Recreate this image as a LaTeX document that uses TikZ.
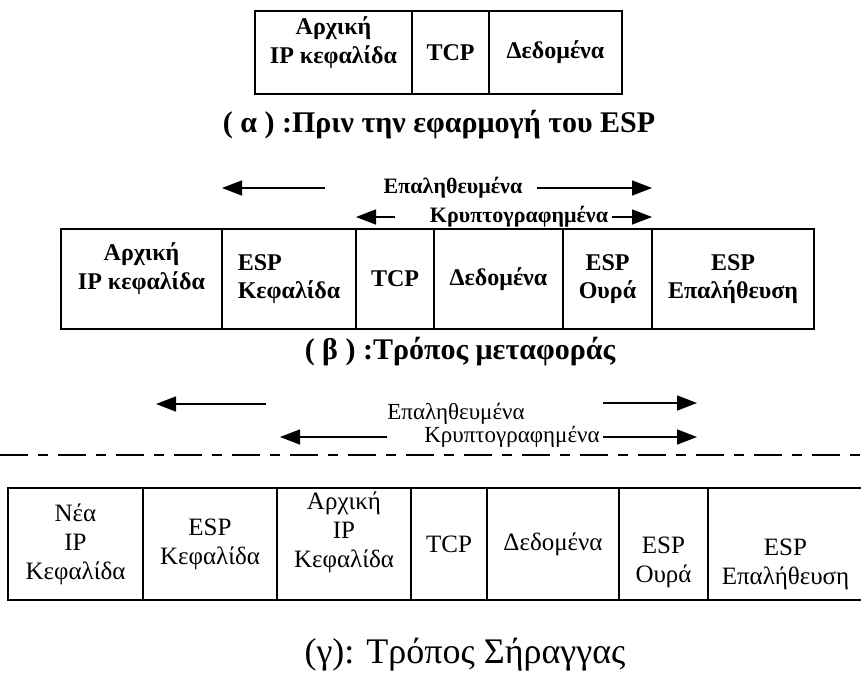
\documentclass[tikz,border=0pt]{standalone}
\usepackage{fontspec}
\setmainfont{Liberation Serif}
\usetikzlibrary{positioning}
\usetikzlibrary{arrows.meta}

\newcommand\cellbf{\fontsize{24}{28.5}\selectfont\bfseries}
\newcommand\cellrm{\fontsize{25}{29}\selectfont}
\newcommand\spanbf{\fontsize{22}{26}\selectfont\bfseries}
\newcommand\spanrm{\fontsize{23}{27}\selectfont}

\begin{document}
\begin{tikzpicture}[x=1pt, y=-1pt,
    box/.style={draw, line width=1.5pt, inner sep=0pt, outer sep=0pt, align=center},
    rowa/.style={box, minimum height=83pt, font=\cellbf},
    rowb/.style={box, minimum height=100pt, font=\cellbf},
    rowc/.style={box, minimum height=112pt, font=\cellrm},
    drop/.style={text depth=0pt, text height=#1},
    spanarrow/.style={line width=1.5pt, -{Triangle[length=20pt, width=15pt]}},
    capt/.style={inner sep=0pt}
  ]
  \path[use as bounding box, fill=white] (0,0) rectangle (861,675);

  % (a) plain packet
  \node[rowa, minimum width=157pt, drop=21pt] (a-ip) at (333.5,52.5) {Αρχική\\IP κεφαλίδα};
  \node[rowa, minimum width=77pt, right=0pt of a-ip] (a-tcp) {TCP};
  \node[rowa, minimum width=133pt, right=0pt of a-tcp] (a-data) {Δεδομένα};
  \node[capt, font=\fontsize{30}{34}\selectfont\bfseries] (a-cap) at (439,125)
    {( α ) :Πριν την εφαρμογή του ESP};

  % (b) transport mode
  \node[font=\spanbf] (b-auth-lbl) at (453,188) {Επαληθευμένα};
  \node[font=\spanbf] (b-enc-lbl) at (519,217) {Κρυπτογραφημένα};

  \node[rowb, minimum width=161pt, drop=20pt] (b-ip) at (141.5,279) {Αρχική\\IP κεφαλίδα};
  \node[rowb, minimum width=134pt, align=left, right=0pt of b-ip] (b-esp) {ESP\\Κεφαλίδα};
  \node[rowb, minimum width=78pt, right=0pt of b-esp] (b-tcp) {TCP};
  \node[rowb, minimum width=129pt, right=0pt of b-tcp] (b-data) {Δεδομένα};
  \node[rowb, minimum width=89pt, right=0pt of b-data] (b-trail) {ESP\\Ουρά};
  \node[rowb, minimum width=162pt, right=0pt of b-trail] (b-auth) {ESP\\Επαλήθευση};
  \node[capt, font=\fontsize{30}{34}\selectfont\bfseries] (b-cap) at (460,352)
    {( β ) :Τρόπος μεταφοράς};

  \coordinate (b-auth-l) at (325,188);
  \coordinate (b-auth-r) at (537,188);
  \coordinate (b-enc-l) at (395,217);
  \draw[spanarrow] (b-auth-l) -- (b-esp.west |- b-auth-l);
  \draw[spanarrow] (b-auth-r) -- (b-trail.east |- b-auth-r);
  \draw[spanarrow] (b-enc-l) -- (b-tcp.west |- b-enc-l);
  \draw[spanarrow] (b-enc-lbl.east) -- (b-trail.east |- b-enc-lbl.east);

  % (c) tunnel mode
  \node[font=\spanrm] (c-auth-lbl) at (456,414) {Επαληθευμένα};
  \node[font=\spanrm] (c-enc-lbl) at (512,437) {Κρυπτογραφημένα};

  \coordinate (c-auth-l) at (266,404);
  \coordinate (c-auth-lt) at (156,404);
  \coordinate (c-auth-r) at (603,403);
  \coordinate (c-auth-rt) at (697,403);
  \coordinate (c-enc-l) at (387,437);
  \coordinate (c-enc-lt) at (280,437);
  \coordinate (c-enc-rt) at (697,437);
  \draw[spanarrow] (c-auth-l) -- (c-auth-lt);
  \draw[spanarrow] (c-auth-r) -- (c-auth-rt);
  \draw[spanarrow] (c-enc-l) -- (c-enc-lt);
  \draw[spanarrow] (c-enc-lbl.east) -- (c-enc-rt);

  \coordinate (cut-l) at (0,455);
  \coordinate (cut-r) at (861,455);
  \draw[line width=1.5pt, dash pattern=on 28pt off 10pt on 10pt off 10pt] (cut-l) -- (cut-r);

  \node[rowc, minimum width=135pt] (c-new) at (75.5,544) {Νέα\\IP\\Κεφαλίδα};
  \node[rowc, minimum width=134pt, right=0pt of c-new] (c-esp) {ESP\\Κεφαλίδα};
  \node[rowc, minimum width=134pt, drop=46pt, right=0pt of c-esp] (c-ip) {Αρχική\\IP\\Κεφαλίδα};
  \node[rowc, minimum width=76pt, right=0pt of c-ip] (c-tcp) {TCP};
  \node[rowc, minimum width=132pt, right=0pt of c-tcp] (c-data) {Δεδομένα};
  \node[rowc, minimum width=89pt, drop=76pt, right=0pt of c-data] (c-trail) {ESP\\Ουρά};
  \node[rowc, minimum width=155pt, drop=80pt, right=0pt of c-trail] (c-auth) {ESP\\Επαλήθευση};
  \node[capt, font=\fontsize{36}{40}\selectfont] (c-cap) at (465,655) {(γ): Τρόπος Σήραγγας};
\end{tikzpicture}
\end{document}
